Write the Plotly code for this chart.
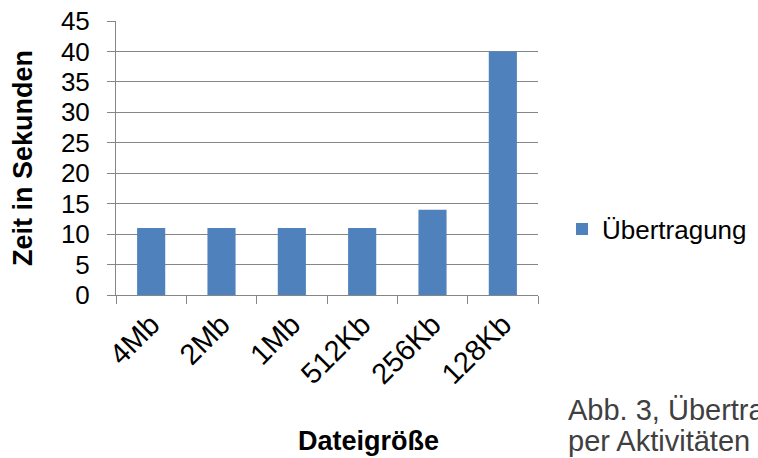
import plotly.graph_objects as go

categories = ["4Mb", "2Mb", "1Mb", "512Kb", "256Kb", "128Kb"]
values = [11, 11, 11, 11, 14, 40]
series_name = "Übertragung"
y_ticks = [0, 5, 10, 15, 20, 25, 30, 35, 40, 45]
x_title = "Dateigröße"
y_title = "Zeit in Sekunden"
caption_lines = ["Abb. 3, Übertragungszeiten", "per Aktivitäten"]

W, H = 758, 458
L, R, T, B = 116, 220, 21, 163
PW, PH = W - L - R, H - T - B

fig = go.Figure()
fig.add_trace(go.Bar(x=categories, y=values, name=series_name,
                     marker=dict(color="#4F81BD", line=dict(width=0))))

font = "Liberation Sans, Arial, sans-serif"
fig.update_layout(
    width=W, height=H,
    margin=dict(l=L, r=R, t=T, b=B, pad=0, autoexpand=False),
    paper_bgcolor="white", plot_bgcolor="white",
    bargap=0.6,
    font=dict(family=font, size=26, color="black"),
    showlegend=True,
    legend=dict(xref="container", yref="container",
                x=562 / W, y=1 - 229 / H, xanchor="left", yanchor="middle",
                font=dict(size=26), bgcolor="rgba(0,0,0,0)",
                itemwidth=30, tracegroupgap=0),
    xaxis=dict(
        type="category", tickangle=-45, tickson="boundaries",
        ticks="outside", ticklen=8, tickcolor="#868686",
        showline=True, linecolor="#868686", linewidth=1,
        showgrid=False, tickfont=dict(size=29),
    ),
    yaxis=dict(
        range=[0, 45], tickvals=y_ticks, ticks="outside", ticklen=8,
        tickcolor="#868686", showline=True, linecolor="#868686", linewidth=1,
        showgrid=True, gridcolor="#868686", gridwidth=1, zeroline=False,
        tickfont=dict(size=26), ticklabelstandoff=12,
        title=dict(text="<b>" + y_title + "</b>", font=dict(size=27), standoff=20),
    ),
)

fig.add_annotation(text="<b>" + x_title + "</b>", xref="paper", yref="paper",
                   x=(368 - L) / PW, y=(295 - 441) / PH, xanchor="center",
                   yanchor="middle", showarrow=False, font=dict(size=27))

for i, line in enumerate(caption_lines):
    fig.add_annotation(text=line, xref="paper", yref="paper",
                       x=(566 - L) / PW, y=(295 - (410 + 31 * i)) / PH,
                       xanchor="left", yanchor="middle", align="left",
                       showarrow=False,
                       font=dict(size=29, color="#404040", family=font))

fig.write_html("out.html", config={"displayModeBar": False},
               post_script="document.body.style.margin='0';")
